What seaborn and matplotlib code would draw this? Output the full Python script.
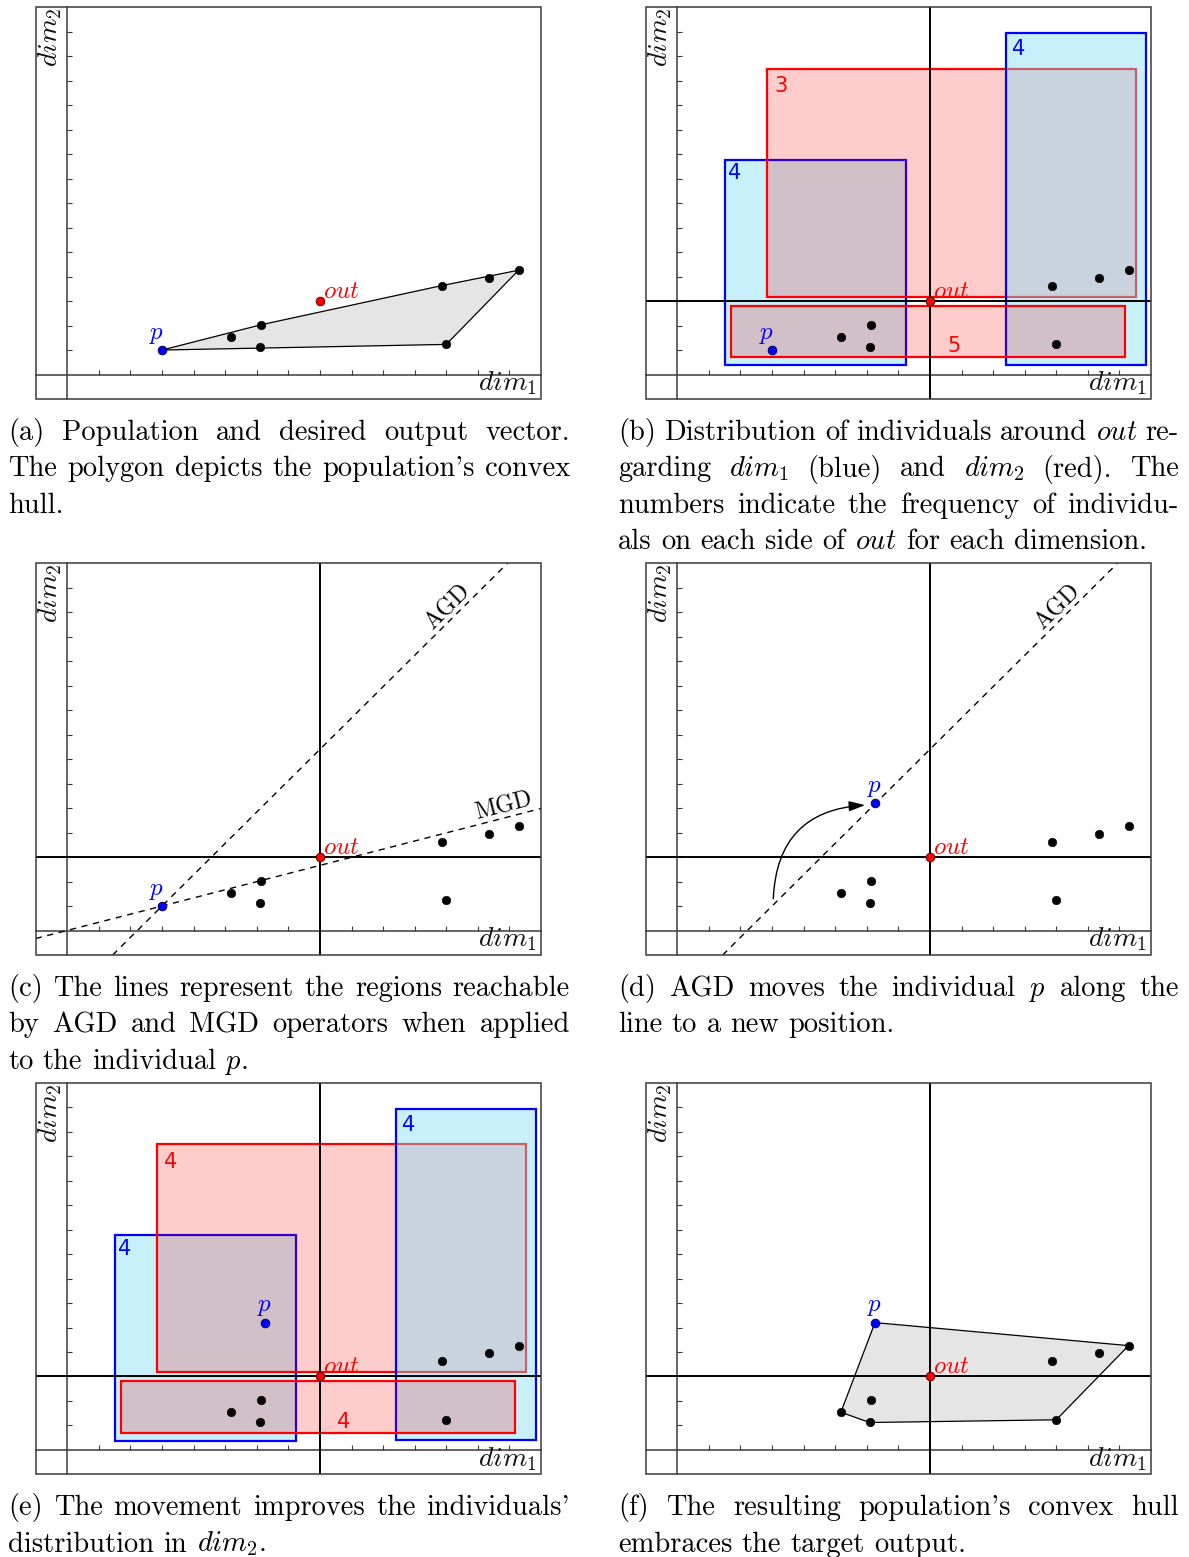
import matplotlib
matplotlib.use('Agg')
import matplotlib.pyplot as plt
import numpy as np
import pandas as pd
import seaborn as sns
from matplotlib.patches import Rectangle, FancyArrowPatch

sns.set_style('white')
plt.rcParams['mathtext.fontset'] = 'cm'
plt.rcParams['font.family'] = ['DejaVu Sans']
plt.rcParams['axes.unicode_minus'] = False

# ---------------- data ----------------
pop_dim1 = [5.18, 6.13, 6.09, 11.85, 12.0, 13.35, 14.29]
pop_dim2 = [1.54, 2.03, 1.12, 3.63, 1.23, 3.94, 4.26]
p_start = [3.0, 1.0]
p_moved = [6.26, 5.2]
out_point = [8.0, 3.0]
axis_ticks = list(range(1, 15))
axis_limits = [-1, 15]

# boxes as [x0, x1, y0, y1]
blue_boxes = [[1.5, 7.23, 0.37, 8.77], [10.41, 14.84, 0.39, 13.93]]
red_boxes = [[2.85, 14.54, 3.17, 12.5], [1.7, 14.17, 0.71, 2.81]]
blue_counts_b = ['4', '4']
red_counts_b = ['3', '5']
blue_counts_e = ['4', '4']
red_counts_e = ['4', '4']
blue_count_xy = [[1.82, 8.22], [10.82, 13.28]]
red_count_xy = [[3.27, 11.78], [8.76, 1.15]]

agd_slope = 1.28
mgd_slope = 0.332
agd_label_x = 12.3
mgd_label_x = 13.9
arrow_tail = [3.04, 1.3]
arrow_head = [5.95, 5.12]

captions = {
    'a': ["(a) Population and desired output vector.",
          "The polygon depicts the population's convex",
          "hull."],
    'b': ["(b) Distribution of individuals around $out$ re-",
          "garding $dim_1$ (blue) and $dim_2$ (red). The",
          "numbers indicate the frequency of individu-",
          "als on each side of $out$ for each dimension."],
    'c': ["(c) The lines represent the regions reachable",
          "by AGD and MGD operators when applied",
          "to the individual $p$."],
    'd': ["(d) AGD moves the individual $p$ along the",
          "line to a new position."],
    'e': ["(e) The movement improves the individuals'",
          "distribution in $dim_2$."],
    'f': ["(f) The resulting population's convex hull",
          "embraces the target output."],
}

# ---------------- layout (pixels) ----------------
W, H = 1189, 1557
DPI = 100
fig = plt.figure(figsize=(W / DPI, H / DPI), dpi=DPI)

col_x = [35.7, 645.7]
ax_w = 505.3
row_top = [7.3, 563.3, 1082.7]
ax_h = 391.7


def make_ax(col, row):
    l = col_x[col] / W
    b = 1 - (row_top[row] + ax_h) / H
    return fig.add_axes([l, b, ax_w / W, ax_h / H])


FRAME = '#3a3a3a'


def setup(ax):
    ax.set_xlim(axis_limits)
    ax.set_ylim(axis_limits)
    ax.set_xticks(axis_ticks)
    ax.set_yticks(axis_ticks)
    ax.set_xticklabels([])
    ax.set_yticklabels([])
    ax.spines['bottom'].set_position(('data', 0))
    ax.spines['left'].set_position(('data', 0))
    for s in ['top', 'right']:
        ax.spines[s].set_visible(False)
    for s in ['bottom', 'left']:
        ax.spines[s].set_color(FRAME)
        ax.spines[s].set_linewidth(1.1)
    ax.tick_params(bottom=True, left=True, top=False, right=False,
                   direction='in', length=3.6, width=0.8, colors=FRAME)
    ax.grid(False)
    ax.add_patch(Rectangle((0, 0), 1, 1, transform=ax.transAxes, fill=False,
                           ec=FRAME, lw=1.1, clip_on=False, zorder=8))
    ax.text(0.992, 0.004, '$dim_1$', transform=ax.transAxes, ha='right',
            va='bottom', fontsize=20, color='#111111')
    ax.text(0.028, 0.998, '$dim_2$', transform=ax.transAxes, rotation=90,
            ha='center', va='top', fontsize=20, color='#111111')


def convex_hull(xs, ys):
    pts = sorted(zip(xs, ys))

    def cross(o, a, b):
        return (a[0] - o[0]) * (b[1] - o[1]) - (a[1] - o[1]) * (b[0] - o[0])
    lower, upper = [], []
    for pt in pts:
        while len(lower) >= 2 and cross(lower[-2], lower[-1], pt) <= 0:
            lower.pop()
        lower.append(pt)
    for pt in reversed(pts):
        while len(upper) >= 2 and cross(upper[-2], upper[-1], pt) <= 0:
            upper.pop()
        upper.append(pt)
    hull = lower[:-1] + upper[:-1]
    return [h[0] for h in hull], [h[1] for h in hull]


def draw_hull(ax, p):
    hx, hy = convex_hull(pop_dim1 + [p[0]], pop_dim2 + [p[1]])
    ax.fill(hx, hy, facecolor='#e5e5e5', edgecolor='black', lw=0.9, zorder=1)


def draw_points(ax, p, p_offset):
    df = pd.DataFrame({'dim1': pop_dim1, 'dim2': pop_dim2})
    sns.scatterplot(data=df, x='dim1', y='dim2', color='black', s=38,
                    edgecolor='black', linewidth=0.4, ax=ax, zorder=6, legend=False)
    sns.scatterplot(x=[p[0]], y=[p[1]], color='#0000ff', s=38,
                    edgecolor='#000050', linewidth=0.7, ax=ax, zorder=7, legend=False)
    sns.scatterplot(x=[out_point[0]], y=[out_point[1]], color='#ff0000', s=38,
                    edgecolor='#600000', linewidth=0.7, ax=ax, zorder=7, legend=False)
    ax.annotate('$p$', xy=p, xytext=p_offset, textcoords='offset points',
                ha='center', va='bottom', color='#0000ff', fontsize=18, zorder=9)
    ax.annotate('$out$', xy=out_point, xytext=(2, 2.5), textcoords='offset points',
                ha='left', va='baseline', color='#ff0000', fontsize=18, zorder=9)
    ax.set_xlabel('')
    ax.set_ylabel('')


def draw_cross(ax):
    ax.axhline(out_point[1], color='black', lw=1.4, zorder=3)
    ax.axvline(out_point[0], color='black', lw=1.4, zorder=3)


BLUE_FC = (128 / 255, 221 / 255, 244 / 255, 0.43)
RED_FC = (1.0, 0.0, 0.0, 0.2)


def draw_boxes(ax, blue_counts, red_counts):
    order = [('b', 0), ('r', 0), ('b', 1), ('r', 1)]
    for kind, i in order:
        if kind == 'b':
            x0, x1, y0, y1 = blue_boxes[i]
            ax.add_patch(Rectangle((x0, y0), x1 - x0, y1 - y0, facecolor=BLUE_FC,
                                   edgecolor='#0000ff', lw=1.6, zorder=1))
            ax.text(blue_count_xy[i][0], blue_count_xy[i][1], blue_counts[i],
                    color='#0000ff', fontsize=15, ha='center', va='center',
                    family='DejaVu Sans', zorder=2)
        else:
            x0, x1, y0, y1 = red_boxes[i]
            ax.add_patch(Rectangle((x0, y0), x1 - x0, y1 - y0, facecolor=RED_FC,
                                   edgecolor='#ff0000', lw=1.6, zorder=1))
            ax.text(red_count_xy[i][0], red_count_xy[i][1], red_counts[i],
                    color='#ff0000', fontsize=15, ha='center', va='center',
                    family='DejaVu Sans', zorder=2)


def draw_line(ax, slope, label, label_x):
    ax.axline(tuple(p_start), slope=slope, color='black', lw=1.0,
              ls=(0, (4.5, 4)), zorder=4)
    ly = p_start[1] + slope * (label_x - p_start[0])
    ax.text(label_x, ly, label, rotation=np.degrees(np.arctan(slope)),
            transform_rotates_text=True, rotation_mode='anchor',
            ha='center', va='bottom', fontsize=17, family='cmr10',
            color='black', zorder=9)


# ---------------- panels ----------------
ax_a = make_ax(0, 0)
setup(ax_a)
draw_hull(ax_a, p_start)
draw_points(ax_a, p_start, (-4, 3))

ax_b = make_ax(1, 0)
setup(ax_b)
draw_boxes(ax_b, blue_counts_b, red_counts_b)
draw_cross(ax_b)
draw_points(ax_b, p_start, (-4, 3))

ax_c = make_ax(0, 1)
setup(ax_c)
draw_cross(ax_c)
draw_line(ax_c, agd_slope, 'AGD', agd_label_x)
draw_line(ax_c, mgd_slope, 'MGD', mgd_label_x)
draw_points(ax_c, p_start, (-4, 3))

ax_d = make_ax(1, 1)
setup(ax_d)
draw_cross(ax_d)
draw_line(ax_d, agd_slope, 'AGD', agd_label_x)
ax_d.add_patch(FancyArrowPatch(posA=tuple(arrow_tail), posB=tuple(arrow_head),
                               connectionstyle='arc3,rad=-0.45',
                               arrowstyle='-|>,head_length=0.7,head_width=0.22',
                               mutation_scale=14, lw=1.0, color='black',
                               shrinkA=0, shrinkB=0, zorder=5))
draw_points(ax_d, p_moved, (0, 3))

ax_e = make_ax(0, 2)
setup(ax_e)
draw_boxes(ax_e, blue_counts_e, red_counts_e)
draw_cross(ax_e)
draw_points(ax_e, p_moved, (0, 3))

ax_f = make_ax(1, 2)
setup(ax_f)
draw_hull(ax_f, p_moved)
draw_cross(ax_f)
draw_points(ax_f, p_moved, (0, 3))

# ---------------- captions (justified) ----------------
renderer = fig.canvas.get_renderer()
CAP_SIZE = 20.5


def caption(lines, x0, x1, baselines):
    space = 0.333 * CAP_SIZE * DPI / 72
    for k, (line, yb) in enumerate(zip(lines, baselines)):
        words = line.split(' ')
        objs = [fig.text(0, 1 - yb / H, w, fontsize=CAP_SIZE, family='cmr10',
                         ha='left', va='baseline', color='black') for w in words]
        widths = [o.get_window_extent(renderer).width for o in objs]
        last = (k == len(lines) - 1)
        if last or len(words) == 1:
            gap = space
        else:
            gap = (x1 - x0 - sum(widths)) / (len(words) - 1)
        x = x0
        for o, w in zip(objs, widths):
            o.set_x(x / W)
            x += w + gap


left_cap = (8, 570)
right_cap = (618, 1179)
pitch = 36.5
caption(captions['a'], *left_cap, [440 + i * pitch for i in range(3)])
caption(captions['b'], *right_cap, [440 + i * pitch for i in range(4)])
caption(captions['c'], *left_cap, [996 + i * pitch for i in range(3)])
caption(captions['d'], *right_cap, [996 + i * pitch for i in range(2)])
caption(captions['e'], *left_cap, [1515 + i * pitch for i in range(2)])
caption(captions['f'], *right_cap, [1515 + i * pitch for i in range(2)])

fig.savefig('out.png', dpi=DPI)
